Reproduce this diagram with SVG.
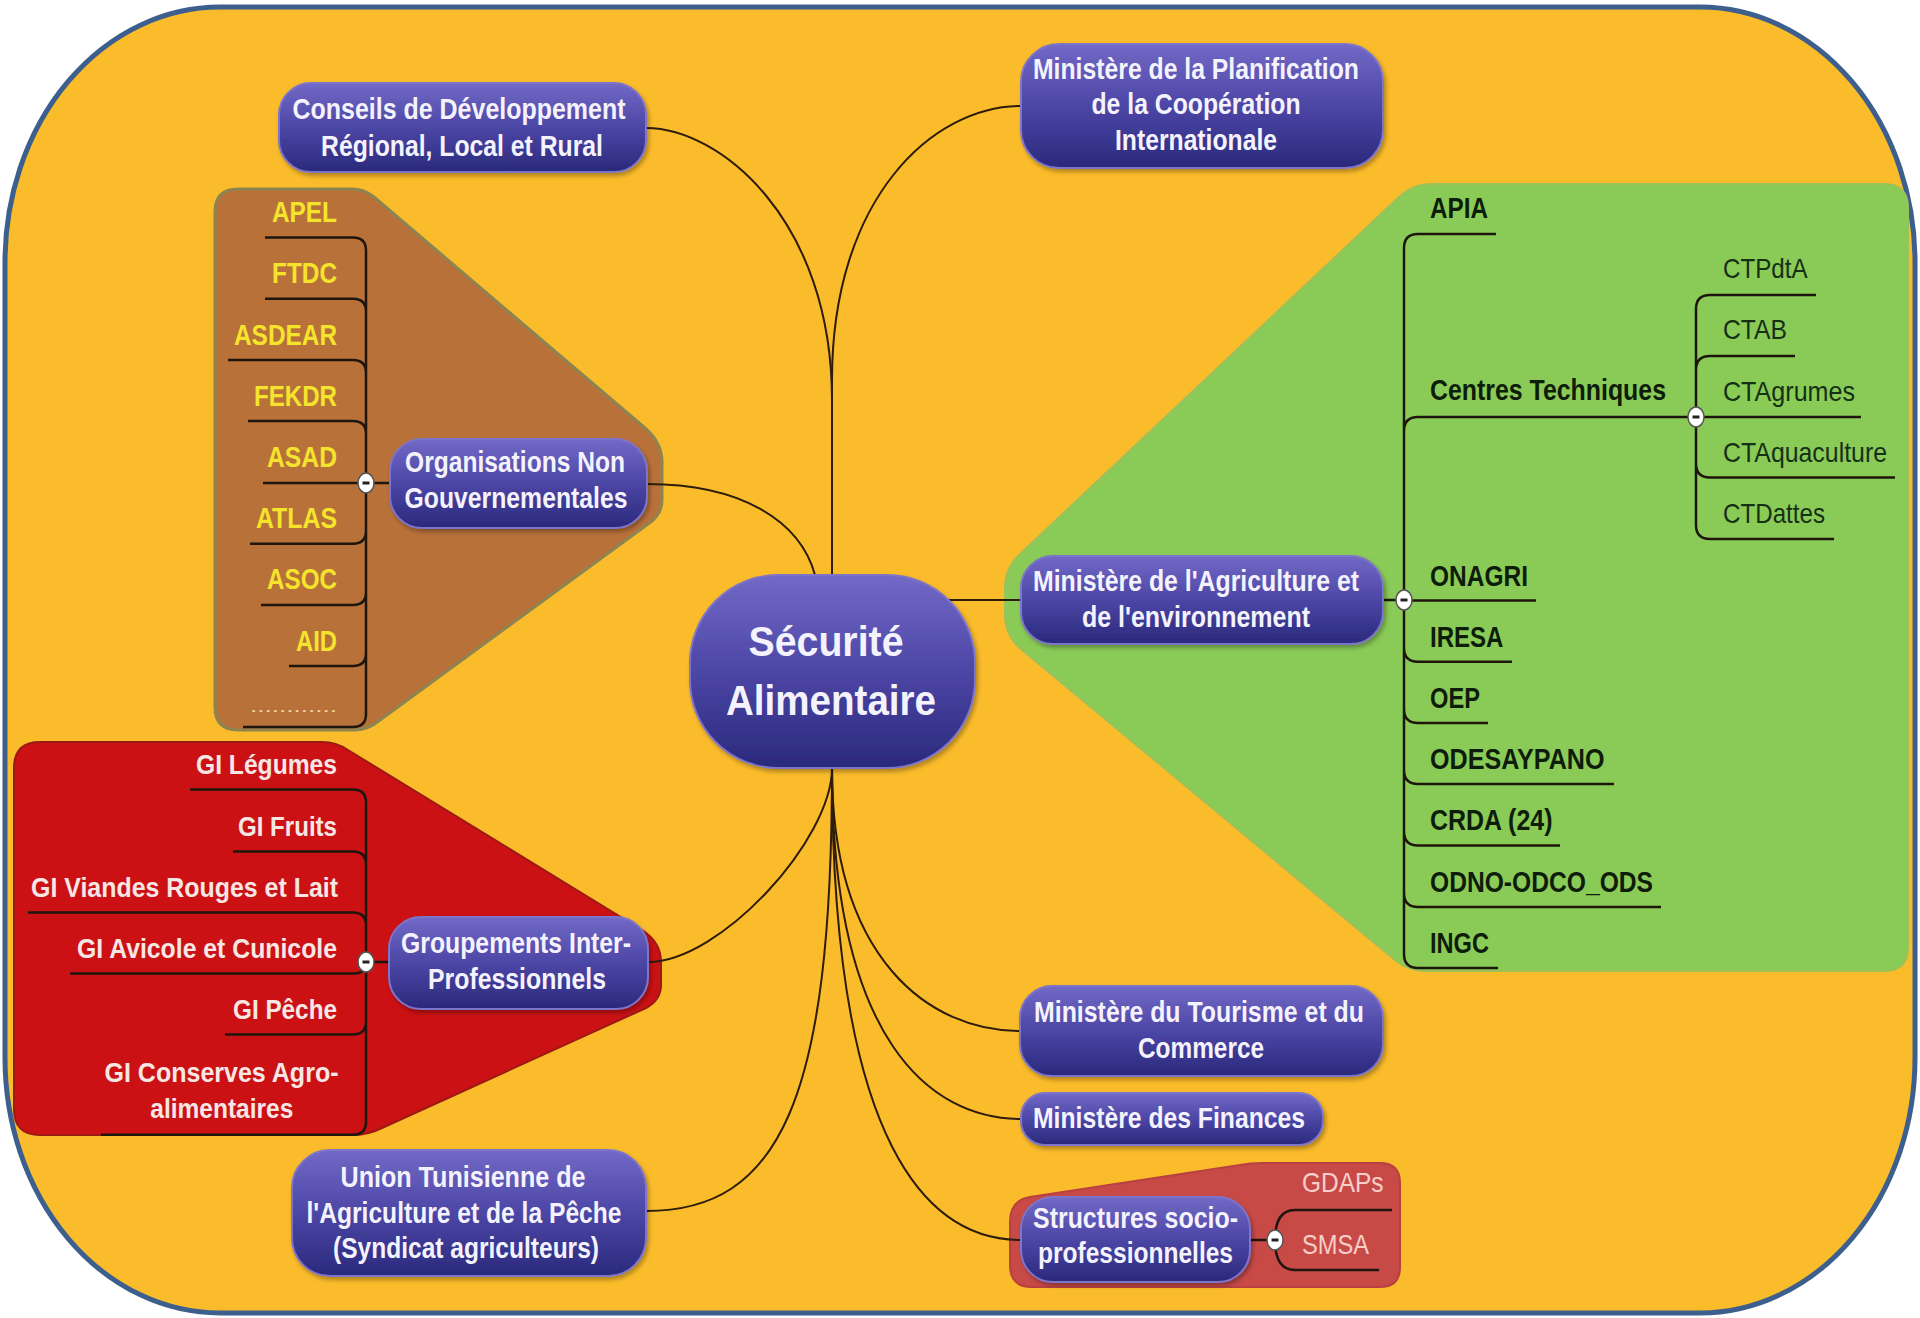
<svg xmlns="http://www.w3.org/2000/svg" width="1920" height="1318" viewBox="0 0 1920 1318">
<defs>
<linearGradient id="pg" x1="0" y1="0" x2="0" y2="1">
<stop offset="0" stop-color="#7269C6"/>
<stop offset="0.5" stop-color="#4C46A5"/>
<stop offset="1" stop-color="#2A297C"/>
</linearGradient>
<filter id="sh" x="-10%" y="-10%" width="120%" height="130%">
<feDropShadow dx="2" dy="3" stdDeviation="2" flood-color="#000" flood-opacity="0.3"/>
</filter>
<style>
.pill{fill:url(#pg);stroke:#7C74C9;stroke-width:2;filter:url(#sh)}
.nt{font-family:"Liberation Sans Narrow","Liberation Sans",Arial,sans-serif;font-weight:bold;font-size:30px;fill:#F4F2FC;text-anchor:middle}
.ct{font-family:"Liberation Sans",Arial,sans-serif;font-weight:bold;font-size:43px;fill:#F4F2FC;text-anchor:middle}
.ong{font-family:"Liberation Sans Narrow","Liberation Sans",Arial,sans-serif;font-weight:bold;font-size:29px;fill:#F4E42C;text-anchor:end}
.dots{font-family:"Liberation Sans",Arial,sans-serif;font-size:16px;fill:#F3D9A8;text-anchor:end}
.gi{font-family:"Liberation Sans Narrow","Liberation Sans",Arial,sans-serif;font-weight:bold;font-size:28px;fill:#F6E6E4;text-anchor:end}
.gim{font-family:"Liberation Sans Narrow","Liberation Sans",Arial,sans-serif;font-weight:bold;font-size:28px;fill:#F6E6E4;text-anchor:middle}
.gr{font-family:"Liberation Sans Narrow","Liberation Sans",Arial,sans-serif;font-weight:bold;font-size:29px;fill:#0E1C0A}
.cts{font-family:"Liberation Sans Narrow","Liberation Sans",Arial,sans-serif;font-size:28px;fill:#163016}
.sp{font-family:"Liberation Sans Narrow","Liberation Sans",Arial,sans-serif;font-size:28px;fill:#F6CFCB}
.main{fill:none;stroke:#2E1C0C;stroke-width:2}
.ch{fill:none;stroke:#1E160C;stroke-width:2.5}
.tg{fill:#fff;stroke:#555;stroke-width:1.5}
.mn{stroke:#222;stroke-width:3}
</style>
</defs>
<rect width="1920" height="1318" fill="#FFFFFF"/>
<rect x="5" y="7" width="1910" height="1306" rx="215" ry="255" fill="#FBBC2B" stroke="#3D5F8E" stroke-width="5"/>

<g id="regions">
<path d="M 238,189 H 352 Q 364,189 374,197 L 645,428 Q 662,443 662,462 V 500 Q 662,515 648,524 L 380,720 Q 368,730 354,730 H 238 Q 215,730 215,707 V 212 Q 215,189 238,189 Z" fill="#B9713A" stroke="#8D8450" stroke-width="3"/>
<path d="M 40,742 H 322 Q 336,742 348,750 L 642,930 Q 661,942 661,962 V 985 Q 661,1000 646,1008 L 382,1128 Q 368,1135 352,1135 H 40 Q 14,1135 14,1109 V 768 Q 14,742 40,742 Z" fill="#CB1114" stroke="#9C1A14" stroke-width="2"/>
<path d="M 1432,184 H 1884 Q 1908,184 1908,208 V 947 Q 1908,971 1884,971 H 1425 Q 1408,971 1395,960 L 1022,650 Q 1005,636 1005,615 V 588 Q 1005,568 1020,554 L 1400,196 Q 1413,184 1432,184 Z" fill="#8ACB57" stroke="#9CC05A" stroke-width="2"/>
<path d="M 1010,1222 Q 1010,1200 1030,1197 L 1240,1165 Q 1250,1163 1262,1163 H 1380 Q 1400,1163 1400,1183 V 1267 Q 1400,1287 1380,1287 H 1032 Q 1010,1287 1010,1265 Z" fill="#C84A47" stroke="#B84040" stroke-width="2"/>
</g>

<g id="connectors">
<path class="main" d="M 832,575 V 400 C 832,220 720,128 646,128"/>
<path class="main" d="M 832,575 V 380 C 832,198 933,106 1021,106"/>
<path class="main" d="M 647,484 C 740,484 800,520 815,575"/>
<path class="main" d="M 900,600 H 1021"/>
<path class="main" d="M 832,768 C 832,840 720,962 648,962"/>
<path class="main" d="M 832,768 C 832,1100 780,1211 646,1211"/>
<path class="main" d="M 832,768 C 832,960 930,1031 1020,1031"/>
<path class="main" d="M 832,768 C 832,1040 930,1119 1021,1119"/>
<path class="main" d="M 832,768 C 832,1150 930,1240 1021,1240"/>
<path class="ch" d="M 366,483 H 390 M 366,483 V 250.5 Q 366,237.5 353,237.5 H 265 M 366,311.7 Q 366,298.7 353,298.7 H 265 M 366,373 Q 366,360 353,360 H 228 M 366,434 Q 366,421 353,421 H 248 M 366,483 H 263 M 366,483 V 714 Q 366,727 353,727 H 243 M 366,530.7 Q 366,543.7 353,543.7 H 250 M 366,592 Q 366,605 353,605 H 261 M 366,653 Q 366,666 353,666 H 289"/>
<path class="ch" d="M 366,962 H 389 M 366,962 V 802.6 Q 366,789.6 353,789.6 H 190 M 366,864.5 Q 366,851.5 353,851.5 H 233 M 366,925.5 Q 366,912.5 353,912.5 H 28 M 366,962 Q 366,973.5 354,973.5 H 70 M 366,962 V 1121.7 Q 366,1134.7 353,1134.7 H 101 M 366,1021.6 Q 366,1034.6 353,1034.6 H 225"/>
<path class="ch" d="M 1383,600 H 1404 M 1404,600 V 248 Q 1404,234 1418,234 H 1496 M 1404,431 Q 1404,417 1418,417 H 1696 M 1404,600.6 H 1536 M 1404,600 V 954 Q 1404,968 1418,968 H 1498 M 1404,647.8 Q 1404,661.8 1418,661.8 H 1512 M 1404,709 Q 1404,723 1418,723 H 1488 M 1404,770 Q 1404,784 1418,784 H 1614 M 1404,831.6 Q 1404,845.6 1418,845.6 H 1560 M 1404,893 Q 1404,907 1418,907 H 1661"/>
<path class="ch" d="M 1696,417 V 309 Q 1696,295 1710,295 H 1816 M 1696,370 Q 1696,356 1710,356 H 1795 M 1696,417 H 1861 M 1696,417 V 525 Q 1696,539 1710,539 H 1834 M 1696,463.5 Q 1696,477.5 1710,477.5 H 1895"/>
<path class="ch" d="M 1250,1240 H 1275 M 1275,1240 C 1275,1222 1280,1210 1295,1210 H 1392 M 1275,1240 C 1275,1258 1280,1270 1295,1270 H 1379"/>
</g>

<g id="n-central">
<rect class="pill" x="690" y="575" width="285" height="193" rx="88" ry="88"/>
<text class="ct" x="826" y="656" textLength="155" lengthAdjust="spacingAndGlyphs">Sécurité</text>
<text class="ct" x="831" y="715" textLength="210" lengthAdjust="spacingAndGlyphs">Alimentaire</text>
</g>
<g id="n-conseils">
<rect class="pill" x="279" y="83" width="367" height="89" rx="32"/>
<text class="nt" x="459" y="119" textLength="333" lengthAdjust="spacingAndGlyphs">Conseils de Développement</text>
<text class="nt" x="462" y="156" textLength="282" lengthAdjust="spacingAndGlyphs">Régional, Local et Rural</text>
</g>
<g id="n-planification">
<rect class="pill" x="1021" y="44" width="362" height="124" rx="38"/>
<text class="nt" x="1196" y="78.5" textLength="326" lengthAdjust="spacingAndGlyphs">Ministère de la Planification</text>
<text class="nt" x="1196" y="114" textLength="209" lengthAdjust="spacingAndGlyphs">de la Coopération</text>
<text class="nt" x="1196" y="150" textLength="162" lengthAdjust="spacingAndGlyphs">Internationale</text>
</g>
<g id="n-ong">
<rect class="pill" x="390" y="439" width="257" height="89" rx="32"/>
<text class="nt" x="515" y="471.5" textLength="220" lengthAdjust="spacingAndGlyphs">Organisations Non</text>
<text class="nt" x="516" y="507.5" textLength="223" lengthAdjust="spacingAndGlyphs">Gouvernementales</text>
</g>
<g id="n-ong-items">
<text class="ong" x="337" y="222" textLength="65" lengthAdjust="spacingAndGlyphs">APEL</text>
<text class="ong" x="337" y="283" textLength="65" lengthAdjust="spacingAndGlyphs">FTDC</text>
<text class="ong" x="337" y="344.5" textLength="103" lengthAdjust="spacingAndGlyphs">ASDEAR</text>
<text class="ong" x="337" y="405.7" textLength="83" lengthAdjust="spacingAndGlyphs">FEKDR</text>
<text class="ong" x="337" y="467" textLength="70" lengthAdjust="spacingAndGlyphs">ASAD</text>
<text class="ong" x="337" y="528" textLength="81" lengthAdjust="spacingAndGlyphs">ATLAS</text>
<text class="ong" x="337" y="589" textLength="70" lengthAdjust="spacingAndGlyphs">ASOC</text>
<text class="ong" x="337" y="650.5" textLength="41" lengthAdjust="spacingAndGlyphs">AID</text>
<text class="dots" x="337" y="712" textLength="87" lengthAdjust="spacingAndGlyphs">............</text>
</g>
<g id="n-agriculture">
<rect class="pill" x="1021" y="556" width="362" height="88" rx="32"/>
<text class="nt" x="1196" y="591" textLength="326" lengthAdjust="spacingAndGlyphs">Ministère de l'Agriculture et</text>
<text class="nt" x="1196" y="627" textLength="228" lengthAdjust="spacingAndGlyphs">de l'environnement</text>
</g>
<g id="n-agri-items">
<text class="gr" x="1430" y="218" textLength="58" lengthAdjust="spacingAndGlyphs">APIA</text>
<text class="gr" x="1430" y="400" textLength="236" lengthAdjust="spacingAndGlyphs">Centres Techniques</text>
<text class="gr" x="1430" y="585.5" textLength="98" lengthAdjust="spacingAndGlyphs">ONAGRI</text>
<text class="gr" x="1430" y="646.5" textLength="73.5" lengthAdjust="spacingAndGlyphs">IRESA</text>
<text class="gr" x="1430" y="707.5" textLength="50" lengthAdjust="spacingAndGlyphs">OEP</text>
<text class="gr" x="1430" y="768.5" textLength="174.5" lengthAdjust="spacingAndGlyphs">ODESAYPANO</text>
<text class="gr" x="1430" y="830" textLength="122.5" lengthAdjust="spacingAndGlyphs">CRDA (24)</text>
<text class="gr" x="1430" y="891.5" textLength="223" lengthAdjust="spacingAndGlyphs">ODNO-ODCO_ODS</text>
<text class="gr" x="1430" y="952.5" textLength="59" lengthAdjust="spacingAndGlyphs">INGC</text>
</g>
<g id="n-ct-items">
<text class="cts" x="1723" y="278" textLength="84.5" lengthAdjust="spacingAndGlyphs">CTPdtA</text>
<text class="cts" x="1723" y="339" textLength="64" lengthAdjust="spacingAndGlyphs">CTAB</text>
<text class="cts" x="1723" y="401" textLength="132" lengthAdjust="spacingAndGlyphs">CTAgrumes</text>
<text class="cts" x="1723" y="462" textLength="164" lengthAdjust="spacingAndGlyphs">CTAquaculture</text>
<text class="cts" x="1723" y="523" textLength="102" lengthAdjust="spacingAndGlyphs">CTDattes</text>
</g>
<g id="n-groupements">
<rect class="pill" x="389" y="917" width="259" height="92" rx="32"/>
<text class="nt" x="516" y="953" textLength="230" lengthAdjust="spacingAndGlyphs">Groupements Inter-</text>
<text class="nt" x="517" y="988.5" textLength="178" lengthAdjust="spacingAndGlyphs">Professionnels</text>
</g>
<g id="n-gi-items">
<text class="gi" x="337" y="773.5" textLength="141" lengthAdjust="spacingAndGlyphs">GI Légumes</text>
<text class="gi" x="337" y="835.5" textLength="99" lengthAdjust="spacingAndGlyphs">GI Fruits</text>
<text class="gi" x="338" y="896.5" textLength="307" lengthAdjust="spacingAndGlyphs">GI Viandes Rouges et Lait</text>
<text class="gi" x="337" y="957.5" textLength="260" lengthAdjust="spacingAndGlyphs">GI Avicole et Cunicole</text>
<text class="gi" x="337" y="1018.6" textLength="104" lengthAdjust="spacingAndGlyphs">GI Pêche</text>
<text class="gi" x="338.5" y="1081.7" textLength="234" lengthAdjust="spacingAndGlyphs">GI Conserves Agro-</text>
<text class="gim" x="221.8" y="1118" textLength="143" lengthAdjust="spacingAndGlyphs">alimentaires</text>
</g>
<g id="n-union">
<rect class="pill" x="292" y="1150" width="354" height="126" rx="38"/>
<text class="nt" x="463" y="1186.5" textLength="245" lengthAdjust="spacingAndGlyphs">Union Tunisienne de</text>
<text class="nt" x="464" y="1222.5" textLength="315" lengthAdjust="spacingAndGlyphs">l'Agriculture et de la Pêche</text>
<text class="nt" x="466" y="1258" textLength="266" lengthAdjust="spacingAndGlyphs">(Syndicat agriculteurs)</text>
</g>
<g id="n-tourisme">
<rect class="pill" x="1020" y="986" width="363" height="90" rx="32"/>
<text class="nt" x="1199" y="1021.5" textLength="330" lengthAdjust="spacingAndGlyphs">Ministère du Tourisme et du</text>
<text class="nt" x="1201" y="1058" textLength="126" lengthAdjust="spacingAndGlyphs">Commerce</text>
</g>
<g id="n-finances">
<rect class="pill" x="1021" y="1093" width="302" height="52" rx="24"/>
<text class="nt" x="1169" y="1127.5" textLength="272" lengthAdjust="spacingAndGlyphs">Ministère des Finances</text>
</g>
<g id="n-structures">
<rect class="pill" x="1021" y="1197" width="229" height="85" rx="32"/>
<text class="nt" x="1135.5" y="1228" textLength="205" lengthAdjust="spacingAndGlyphs">Structures socio-</text>
<text class="nt" x="1135.5" y="1262.5" textLength="195" lengthAdjust="spacingAndGlyphs">professionnelles</text>
</g>
<g id="n-structures-items">
<text class="sp" x="1302" y="1192" textLength="81.6" lengthAdjust="spacingAndGlyphs">GDAPs</text>
<text class="sp" x="1302" y="1253.5" textLength="67" lengthAdjust="spacingAndGlyphs">SMSA</text>
</g>

<g id="toggles">
<ellipse class="tg" cx="366" cy="483" rx="8" ry="10"/><line class="mn" x1="362.5" y1="483" x2="369.5" y2="483"/>
<ellipse class="tg" cx="366" cy="962" rx="8" ry="10"/><line class="mn" x1="362.5" y1="962" x2="369.5" y2="962"/>
<ellipse class="tg" cx="1404" cy="600" rx="8" ry="10"/><line class="mn" x1="1400.5" y1="600" x2="1407.5" y2="600"/>
<ellipse class="tg" cx="1696" cy="417" rx="8" ry="10"/><line class="mn" x1="1692.5" y1="417" x2="1699.5" y2="417"/>
<ellipse class="tg" cx="1275" cy="1240" rx="8" ry="10"/><line class="mn" x1="1271.5" y1="1240" x2="1278.5" y2="1240"/>
</g>
</svg>
